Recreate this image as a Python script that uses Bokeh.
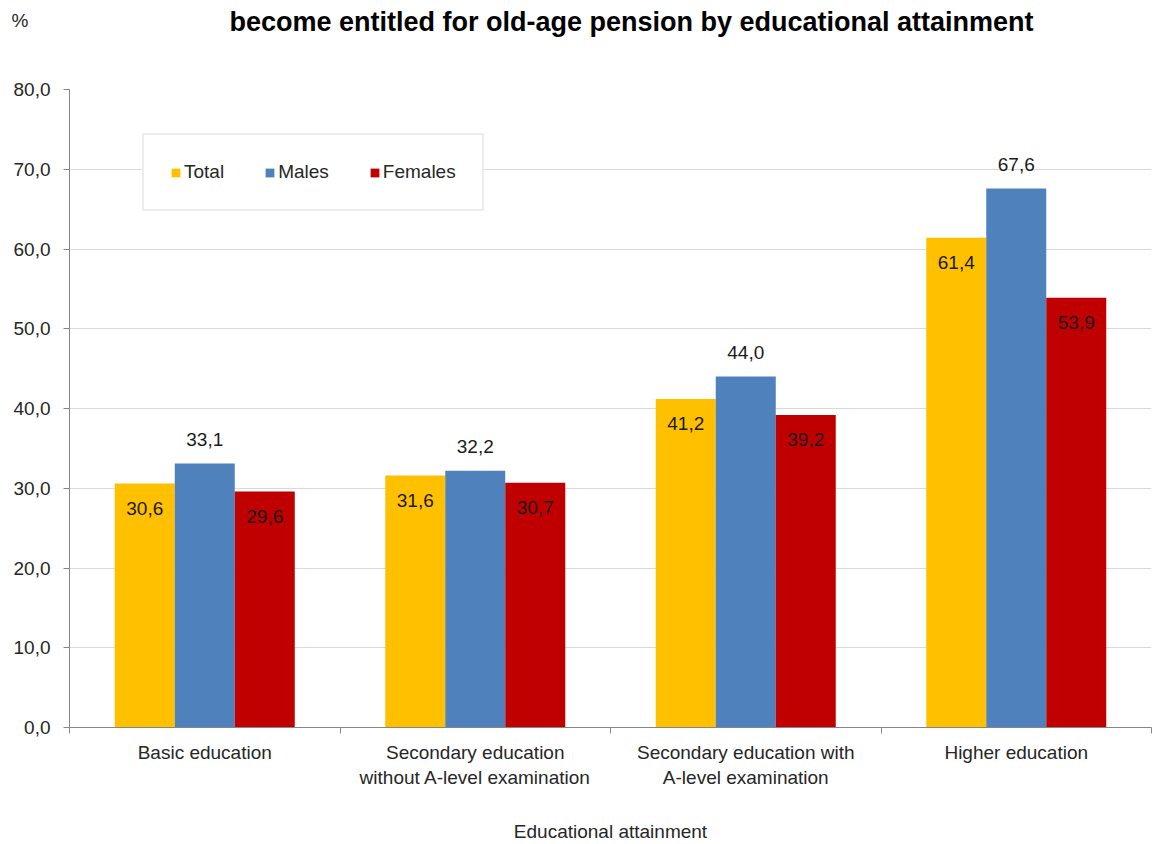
from bokeh.plotting import figure
from bokeh.layouts import column
from bokeh.models import Range1d, FixedTicker, ColumnDataSource, Legend, LegendItem
from bokeh.core.properties import value
from bokeh.embed import file_html
from bokeh.resources import INLINE

categories = ["Basic education", "Secondary education\nwithout A-level examination",
              "Secondary education with\nA-level examination", "Higher education"]
series_names = ["Total", "Males", "Females"]
total = [30.6, 31.6, 41.2, 61.4]
males = [33.1, 32.2, 44.0, 67.6]
females = [29.6, 30.7, 39.2, 53.9]
y_ticks = [0, 10, 20, 30, 40, 50, 60, 70, 80]
title_text = "become entitled for old-age pension by educational attainment"
unit_text = "%"
x_title = "Educational attainment"

colors = ["#FFC000", "#4F81BD", "#C00000"]
FONT = "Liberation Sans"

# ---- header strip (title and unit label) ----
head = figure(width=1155, height=40, output_backend="svg", toolbar_location=None,
              x_range=Range1d(69, 1151), y_range=Range1d(40, 0), x_axis_type=None,
              min_border_left=69, min_border_right=4, min_border_top=0, min_border_bottom=0)
head.outline_line_color = None
head.xgrid.visible = False
head.ygrid.visible = False
head.yaxis.ticker = FixedTicker(ticks=[])
head.yaxis.axis_line_color = None
head.yaxis.major_tick_line_color = None
head.yaxis.minor_tick_line_color = None
head.yaxis.major_label_standoff = 0
head.yaxis.axis_label = unit_text
head.yaxis.axis_label_orientation = "horizontal"
head.yaxis.axis_label_standoff = 41
head.yaxis.axis_label_text_font = FONT
head.yaxis.axis_label_text_font_size = "19px"
head.yaxis.axis_label_text_font_style = "normal"
head.yaxis.axis_label_text_color = "#262626"
head.text(x=[631], y=[21], text=[title_text], text_align="center", text_baseline="alphabetic",
          text_font=value(FONT), text_font_size="27px", text_font_style="bold", text_color="#000000")

# ---- main chart ----
p = figure(width=1155, height=804, output_backend="svg", toolbar_location=None,
           x_range=Range1d(0, 4), y_range=Range1d(0, 80),
           min_border_left=69, min_border_right=4, min_border_top=49, min_border_bottom=117)
p.outline_line_color = None
p.background_fill_color = "white"

bw = 60 / 270.5
offsets = [-bw, 0, bw]
centers = [i + 0.5 for i in range(len(categories))]
legend_items = []
for s, (name, vals, col, off) in enumerate(zip(series_names, [total, males, females], colors, offsets)):
    src = ColumnDataSource(dict(x=[c + off for c in centers], top=vals,
                                lab=[f"{v:.1f}".replace(".", ",") for v in vals]))
    r = p.vbar(x="x", top="top", width=bw, source=src, fill_color=col, line_color=None)
    legend_items.append(LegendItem(label=name, renderers=[r]))
    yoff = -24 if s == 1 else 25
    p.text(x="x", y="top", text="lab", source=src, text_align="center", text_baseline="middle",
           y_offset=yoff, text_font=value(FONT), text_font_size="19px", text_color="#1a1a1a")

# axes
p.yaxis.ticker = FixedTicker(ticks=y_ticks)
p.yaxis.major_label_overrides = {t: f"{t:.1f}".replace(".", ",") for t in y_ticks}
p.yaxis.major_label_text_font = FONT
p.yaxis.major_label_text_font_size = "19px"
p.yaxis.major_label_text_color = "#262626"
p.yaxis.axis_line_color = "#868686"
p.yaxis.major_tick_line_color = "#868686"
p.yaxis.major_tick_out = 6
p.yaxis.major_tick_in = 0
p.yaxis.minor_tick_line_color = None
p.yaxis.major_label_standoff = 13

p.xaxis.ticker = FixedTicker(ticks=centers, minor_ticks=[0, 1, 2, 3, 4])
p.xaxis.major_label_overrides = {c: lab for c, lab in zip(centers, categories)}
p.xaxis.major_tick_line_color = None
p.xaxis.major_tick_out = 0
p.xaxis.major_tick_in = 0
p.xaxis.minor_tick_line_color = "#868686"
p.xaxis.minor_tick_out = 6
p.xaxis.minor_tick_in = 0
p.xaxis.axis_line_color = "#868686"
p.xaxis.major_label_text_font = FONT
p.xaxis.major_label_text_font_size = "19px"
p.xaxis.major_label_text_color = "#262626"
p.xaxis.major_label_standoff = 8
p.xaxis.axis_label = x_title
p.xaxis.axis_label_text_font = FONT
p.xaxis.axis_label_text_font_size = "19px"
p.xaxis.axis_label_text_font_style = "normal"
p.xaxis.axis_label_text_color = "#262626"
p.xaxis.axis_label_standoff = 30

p.xgrid.grid_line_color = None
p.ygrid.ticker = FixedTicker(ticks=y_ticks)
p.ygrid.grid_line_color = "#d9d9d9"

legend = Legend(items=legend_items, orientation="horizontal", location=(73, 516),
                glyph_width=11, glyph_height=11, label_standoff=3, spacing=40,
                padding=26, margin=0, label_text_font=FONT, label_text_font_size="19px",
                label_text_color="#262626", border_line_color="#d9d9d9", border_line_width=2,
                background_fill_color="white", background_fill_alpha=1)
p.add_layout(legend, "center")

layout = column(head, p, spacing=0)
open("out.html", "w").write(file_html(layout, INLINE))
